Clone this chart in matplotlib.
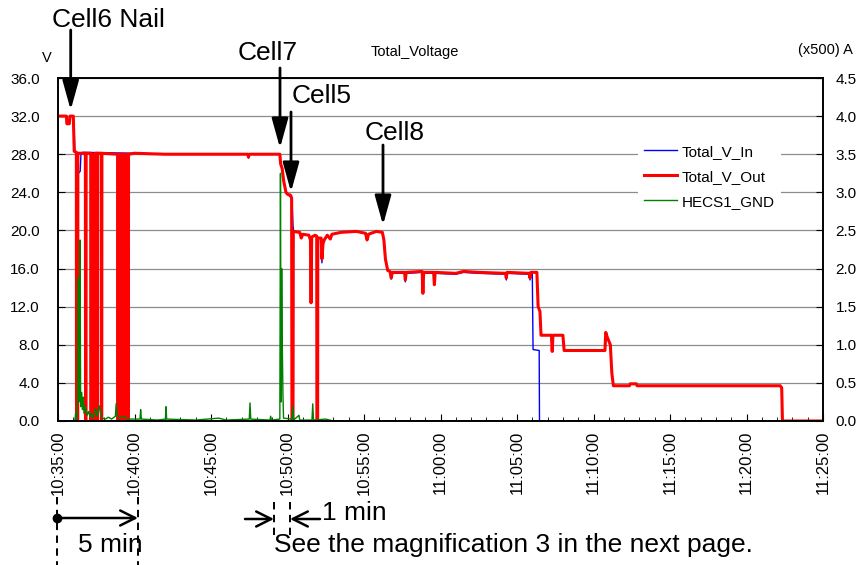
import matplotlib
matplotlib.use('Agg')
import matplotlib.pyplot as plt
import numpy as np

plt.rcParams['font.family'] = ['Liberation Sans', 'DejaVu Sans']

W, H = 864, 565

# x axis: minutes after 10:35:00
tick_minutes = [0, 5, 10, 15, 20, 25, 30, 35, 40, 45, 50]
tick_labels = ['10:35:00', '10:40:00', '10:45:00', '10:50:00', '10:55:00', '11:00:00',
               '11:05:00', '11:10:00', '11:15:00', '11:20:00', '11:25:00']
volt_ticks = [0, 4, 8, 12, 16, 20, 24, 28, 32, 36]
amp_ticks = [0, 0.5, 1.0, 1.5, 2.0, 2.5, 3.0, 3.5, 4.0, 4.5]

# Total_V_In (blue)
in_t = [0.00, 0.55, 0.58, 0.74, 0.78, 1.00, 1.05, 1.10, 1.30, 1.33, 1.45, 1.50, 1.60,
        5.00, 7.00, 12.40, 12.45, 12.50, 14.50, 14.55, 14.65, 14.75, 14.90, 15.00, 15.20, 15.30,
        15.36, 15.40, 15.80, 15.90, 16.00, 16.40, 16.50, 16.54, 16.58, 16.80,
        16.91, 16.98, 17.20, 17.25, 17.32, 17.40, 17.60, 17.80, 17.90,
        18.50, 19.50, 20.10, 20.20, 20.30, 20.80, 21.20, 21.30, 21.40, 21.55, 21.70,
        21.78, 21.85, 22.65, 22.70, 22.76, 23.80, 23.85, 23.90, 24.55, 24.60, 24.65,
        26.00, 26.50, 27.50, 29.25, 29.30, 29.35, 30.80, 30.85, 30.90, 31.00, 31.05,
        31.45, 31.47, 50.00]
in_v = [32.0, 32.0, 31.3, 31.3, 32.0, 32.0, 31.0, 28.3, 28.0, 26.0, 26.2, 28.0, 28.2,
        28.1, 28.0, 28.0, 27.6, 28.0, 28.0, 27.0, 26.5, 25.2, 24.0, 23.8, 23.5, 23.0,
        20.5, 19.9, 19.8, 19.2, 19.6, 19.5, 19.0, 12.4, 19.3, 19.5,
        19.4, 19.2, 19.2, 16.6, 18.6, 19.0, 19.5, 19.1, 19.6,
        19.8, 19.9, 19.7, 19.0, 19.6, 19.9, 19.8, 19.0, 17.0, 15.8, 15.6,
        14.9, 15.5, 15.5, 14.6, 15.5, 15.6, 13.6, 15.5, 15.5, 14.4, 15.5,
        15.4, 15.6, 15.5, 15.4, 14.8, 15.5, 15.4, 14.8, 15.5, 15.4, 7.5,
        7.4, 0.0, 0.0]

# Total_V_Out (red)
out_t = [0.00, 0.55, 0.58, 0.74, 0.78, 1.00, 1.06,
         1.20, 1.21, 1.29, 1.30,
         1.79, 1.80, 1.83, 1.84,
         2.14, 2.15, 2.18, 2.19,
         2.27, 2.28, 2.31, 2.32,
         2.40, 2.41, 2.44, 2.45,
         2.53, 2.54, 2.57, 2.58,
         2.82, 2.83, 2.86, 2.87,
         3.90, 3.91, 3.94, 3.95,
         4.06, 4.07, 4.10, 4.11,
         4.23, 4.24, 4.27, 4.28,
         4.39, 4.40, 4.43, 4.44,
         4.56, 4.57, 4.60, 4.61,
         5.00, 7.00, 12.40, 12.45, 12.50, 14.50, 14.55, 14.65, 14.75, 14.90, 15.00, 15.20, 15.27,
         15.29, 15.36, 15.38, 15.80, 15.90, 16.00, 16.40, 16.50, 16.54, 16.58, 16.80,
         16.91, 16.92, 16.97, 16.98, 17.20, 17.25, 17.32, 17.40, 17.60, 17.80, 17.90,
         18.50, 19.50, 20.10, 20.20, 20.30, 20.80, 21.20, 21.30, 21.40, 21.55, 21.70,
         21.78, 21.85, 22.65, 22.70, 22.76, 23.80, 23.85, 23.90, 24.55, 24.60, 24.65,
         26.00, 26.50, 27.50, 29.25, 29.30, 29.35, 30.80, 30.85, 30.90, 31.30, 31.38,
         31.50, 31.57, 32.25, 32.30, 32.35, 33.00, 33.08, 35.75, 35.80, 35.90, 36.10,
         36.20, 36.30, 37.35, 37.40, 37.80, 37.85, 47.20, 47.30, 47.35, 50.00]
out_v = [32.0, 32.0, 31.2, 31.2, 32.0, 32.0, 28.3,
         28.2, 0.0, 0.0, 28.1,
         28.1, 0.0, 0.0, 28.1,
         28.1, 0.0, 0.0, 28.0,
         28.0, 0.0, 0.0, 28.0,
         28.0, 0.0, 0.0, 28.1,
         28.1, 0.0, 0.0, 28.1,
         28.1, 0.0, 0.0, 28.1,
         28.0, 0.0, 0.0, 28.0,
         28.0, 0.0, 0.0, 28.0,
         28.0, 0.0, 0.0, 28.0,
         28.0, 0.0, 0.0, 28.0,
         28.0, 0.0, 0.0, 28.0,
         28.1, 28.0, 28.0, 27.7, 28.0, 28.0, 27.0, 26.5, 25.2, 24.0, 23.8, 23.7, 23.4,
         0.0, 0.0, 19.9, 19.8, 19.2, 19.6, 19.5, 19.0, 12.4, 19.3, 19.5,
         19.4, 0.0, 0.0, 19.2, 19.2, 17.0, 18.6, 19.0, 19.5, 19.1, 19.6,
         19.8, 19.9, 19.7, 19.0, 19.6, 19.9, 19.8, 19.0, 17.0, 15.8, 15.7,
         15.0, 15.6, 15.6, 14.8, 15.6, 15.7, 13.4, 15.6, 15.6, 14.3, 15.6,
         15.5, 15.7, 15.6, 15.5, 15.0, 15.6, 15.5, 15.0, 15.6, 15.6, 12.0,
         11.5, 9.0, 9.0, 7.3, 9.0, 9.0, 7.4, 7.4, 9.3, 8.8, 8.0,
         5.0, 3.7, 3.7, 3.9, 3.9, 3.7, 3.7, 3.5, 0.0, 0.0]

# HECS1_GND (green)
gnd_t = [0.00, 1.10, 1.15, 1.20, 1.28, 1.33, 1.36, 1.40, 1.44, 1.48, 1.55, 1.60, 1.65,
         1.70, 1.80, 1.90, 2.00, 2.10, 2.20, 2.30, 2.45, 2.55, 2.70, 2.80, 2.90, 3.10,
         3.30, 3.50, 3.75, 3.80, 3.85, 4.00, 4.30, 4.60, 5.36, 5.40, 5.45, 6.50, 7.02,
         7.06, 7.10, 9.00, 10.50, 11.00, 12.50, 12.55, 12.60, 13.85, 13.90, 13.95, 14.50,
         14.54, 14.58, 14.62, 14.66, 14.70, 14.74, 15.30, 15.35, 15.40, 15.75, 15.80,
         16.60, 16.65, 16.70, 17.50, 18.00, 50.00]
gnd_v = [0.0, 0.0, 0.8, 0.2, 1.5, 15.0, 2.0, 3.0, 19.0, 1.5, 3.0, 1.2, 2.5,
         0.8, 1.5, 0.6, 1.0, 0.4, 0.8, 0.3, 1.3, 0.5, 1.6, 0.6, 0.3, 0.2,
         0.4, 0.2, 0.5, 1.8, 0.6, 0.3, 0.5, 0.2, 0.2, 1.2, 0.2, 0.1, 0.2,
         1.5, 0.2, 0.1, 0.3, 0.1, 0.2, 1.9, 0.2, 0.1, 0.5, 0.1, 0.2,
         26.0, 2.0, 16.0, 8.0, 3.0, 0.3, 0.2, 1.5, 0.1, 0.6, 0.1,
         0.1, 1.8, 0.1, 0.2, 0.0, 0.0]

fig = plt.figure(figsize=(W / 100, H / 100), dpi=100)
ax = fig.add_axes([58 / W, 1 - 421 / H, (823 - 58) / W, (421 - 78) / H])

ax.plot(in_t, in_v, color='#0000ff', lw=1.0, label='Total_V_In')
ax.plot(out_t, out_v, color='#ff0000', lw=2.2, label='Total_V_Out')
ax.plot(gnd_t, gnd_v, color='#008000', lw=1.0, label='HECS1_GND')

ax.set_xlim(0, 50)
ax.set_ylim(0, 36)
ax.set_yticks(volt_ticks)
ax.yaxis.set_major_formatter('{x:.1f}')
ax.set_xticks(tick_minutes, tick_labels, rotation=90)
ax.set_xticks(np.arange(0, 51, 1), minor=True)
ax.grid(axis='y', color='#8c8c8c', lw=0.9)
ax.set_axisbelow(True)
ax.tick_params(axis='both', which='both', direction='in', labelsize=11)
ax.tick_params(axis='x', which='major', length=5, pad=7, labelsize=12)
ax.tick_params(axis='x', which='minor', length=3)
ax.tick_params(axis='y', length=5, pad=13)
for s in ax.spines.values():
    s.set_linewidth(1.2)

ax2 = ax.twinx()
ax2.set_ylim(0, 4.5)
ax2.set_yticks(amp_ticks)
ax2.yaxis.set_major_formatter('{x:.1f}')
ax2.tick_params(axis='y', direction='in', length=5, pad=9, labelsize=11)
for s in ax2.spines.values():
    s.set_linewidth(1.2)

ax.legend(loc='upper left', bbox_to_anchor=(630 / W, 1 - 131 / H), bbox_transform=fig.transFigure,
          frameon=True, fancybox=False, edgecolor='none', facecolor='white', framealpha=1,
          fontsize=11, handlelength=2.2, handletextpad=0.3, labelspacing=0.72, borderpad=0.4)

# overlay in pixel coordinates for the annotations
ov = fig.add_axes([0, 0, 1, 1])
ov.set_xlim(0, W)
ov.set_ylim(H, 0)
ov.set_axis_off()

ov.text(415, 52, 'Total_Voltage', fontsize=10.5, ha='center', va='center')
ov.text(47, 58, 'V', fontsize=10.5, ha='center', va='center')
ov.text(825, 50, '(x500) A', fontsize=10.5, ha='center', va='center')

big = 19
head = dict(arrowstyle='-|>,head_length=1.8,head_width=0.5', mutation_scale=10,
            lw=2, color='black', shrinkA=0, shrinkB=0)
for label, tx, ty, ax_x, y0, y1 in [('Cell6 Nail', 108, 27, 70.7, 30, 110),
                                    ('Cell7', 268, 60, 280, 68, 148),
                                    ('Cell5', 322, 103, 291, 112, 192),
                                    ('Cell8', 395, 140, 383, 145, 225)]:
    ov.text(tx, ty, label, fontsize=big, ha='center', va='baseline')
    ov.annotate('', xy=(ax_x, y1), xytext=(ax_x, y0), arrowprops=head)

dash = dict(color='black', lw=1.4, ls=(0, (3.8, 2.8)))
ov.plot([57, 57], [497, 565], **dash)
ov.plot([138, 138], [497, 565], **dash)
ov.plot([274, 274], [502, 535], **dash)
ov.plot([290, 290], [502, 535], **dash)
ov.plot(57, 518, 'o', ms=6, color='black')
open_head = dict(arrowstyle='->,head_length=0.9,head_width=0.45', mutation_scale=12,
                 lw=1.8, color='black', shrinkA=0, shrinkB=0)
ov.annotate('', xy=(138, 518), xytext=(57, 518), arrowprops=open_head)
ov.annotate('', xy=(274, 519), xytext=(245, 519), arrowprops=open_head)
ov.annotate('', xy=(290, 519), xytext=(320, 519), arrowprops=open_head)
ov.text(78, 552, '5 min', fontsize=big, ha='left', va='baseline')
ov.text(322, 520, '1 min', fontsize=big, ha='left', va='baseline')
ov.text(274, 552, 'See the magnification 3 in the next page.', fontsize=big, ha='left', va='baseline')

fig.savefig('out.png', dpi=100)
